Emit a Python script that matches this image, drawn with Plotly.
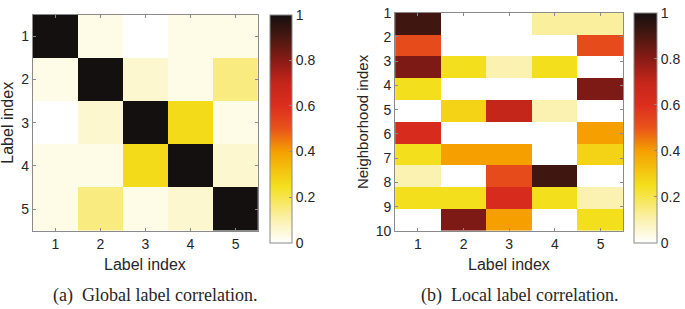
import numpy as np
import plotly.graph_objects as go

# ---------------- data ----------------
labels = [1, 2, 3, 4, 5]
global_corr = [
    [1.00, 0.03, 0.00, 0.03, 0.03],
    [0.03, 1.00, 0.06, 0.03, 0.15],
    [0.00, 0.06, 1.00, 0.26, 0.03],
    [0.03, 0.03, 0.26, 1.00, 0.06],
    [0.03, 0.15, 0.03, 0.06, 1.00],
]
neighborhoods = [1, 2, 3, 4, 5, 6, 7, 8, 9, 10]
local_corr = [
    [0.92, 0.00, 0.00, 0.12, 0.12],
    [0.52, 0.00, 0.00, 0.00, 0.52],
    [0.82, 0.25, 0.10, 0.25, 0.00],
    [0.25, 0.00, 0.00, 0.00, 0.82],
    [0.00, 0.28, 0.70, 0.10, 0.00],
    [0.62, 0.00, 0.00, 0.00, 0.40],
    [0.25, 0.40, 0.40, 0.00, 0.28],
    [0.10, 0.00, 0.52, 0.92, 0.00],
    [0.25, 0.25, 0.62, 0.25, 0.10],
    [0.00, 0.82, 0.40, 0.00, 0.25],
]
cbar_ticks = [0, 0.2, 0.4, 0.6, 0.8, 1]
cbar_ticktext = ["0", "0.2", "0.4", "0.6", "0.8", "1"]

colorscale = [
    [0.00, "#ffffff"],
    [0.10, "#fbf1b0"],
    [0.25, "#f4df1c"],
    [0.40, "#f5a000"],
    [0.50, "#e9541a"],
    [0.60, "#dc2e1e"],
    [0.70, "#c4261a"],
    [0.80, "#8a1b16"],
    [0.90, "#4a1810"],
    [1.00, "#141010"],
]

W, H = 685, 309
def px(x):
    return x / W
def py(y):
    return 1 - y / H

FONT = "Liberation Sans, Arial, sans-serif"
TXT = "#262626"
LINE = "#8a8a8a"

fig = go.Figure()

def cbar(x, ytop, length, thick):
    return dict(
        x=px(x), xanchor="left", xref="paper", xpad=0,
        y=py(ytop), yanchor="top", yref="paper", ypad=0,
        len=length, lenmode="pixels", thickness=thick,
        outlinewidth=1, outlinecolor=LINE,
        tickvals=cbar_ticks, ticktext=cbar_ticktext,
        ticks="inside", ticklen=3, tickcolor=LINE,
        ticklabeloverflow="allow",
        tickfont=dict(family=FONT, size=14, color=TXT),
    )

fig.add_trace(go.Heatmap(
    z=global_corr, x=labels, y=labels, zmin=0, zmax=1,
    colorscale=colorscale, xaxis="x", yaxis="y",
    colorbar=cbar(272, 7, 228, 22),
))

# edges spanning the 1..10 axis range for 10 rows
local_edges = np.linspace(neighborhoods[0], neighborhoods[-1], len(neighborhoods) + 1)
fig.add_trace(go.Heatmap(
    z=local_corr, x=labels, y=local_edges, zmin=0, zmax=1,
    colorscale=colorscale, xaxis="x2", yaxis="y2",
    colorbar=cbar(639, 5, 230, 23),
))

axis_common = dict(
    showgrid=False, zeroline=False, showline=True, linecolor=LINE, linewidth=1,
    mirror="ticks", ticks="inside", ticklen=3, tickcolor=LINE,
    ticklabeloverflow="allow",
    tickfont=dict(family=FONT, size=14, color=TXT),
)

fig.update_layout(
    width=W, height=H,
    margin=dict(l=0, r=0, t=0, b=0),
    paper_bgcolor="white", plot_bgcolor="white",
    xaxis=dict(domain=[px(33), px(260)], range=[0.5, 5.5], tickvals=labels,
               anchor="y", **axis_common),
    yaxis=dict(domain=[py(235), py(7)], range=[5.5, 0.5], tickvals=labels,
               anchor="x", **axis_common),
    xaxis2=dict(domain=[px(398), px(628)], range=[0.5, 5.5], tickvals=labels,
                anchor="y2", **axis_common),
    yaxis2=dict(domain=[py(235), py(5)],
                range=[neighborhoods[-1], neighborhoods[0]],
                tickvals=neighborhoods, anchor="x2", **axis_common),
)

def ann(text, x, y, size, family=FONT, angle=0):
    fig.add_annotation(text=text, x=px(x), y=py(y), xref="paper", yref="paper",
                       showarrow=False, xanchor="center", yanchor="middle",
                       textangle=angle, font=dict(family=family, size=size, color=TXT))

ann("Label index", 146.5, 271, 16)
ann("Label index", 513, 271, 16)
ann("Label index", 8, 121, 16, angle=-90)
ann("Neighborhood index", 365, 120, 15, angle=-90)

SERIF = "Liberation Serif, DejaVu Serif, serif"
ann("(a)  Global label correlation.", 156, 303, 18, family=SERIF)
ann("(b)  Local label correlation.", 523, 303, 18, family=SERIF)

fig.write_html("out.html",
               config={"displayModeBar": False},
               post_script="document.body.style.margin='0';document.body.style.overflow='hidden';")
